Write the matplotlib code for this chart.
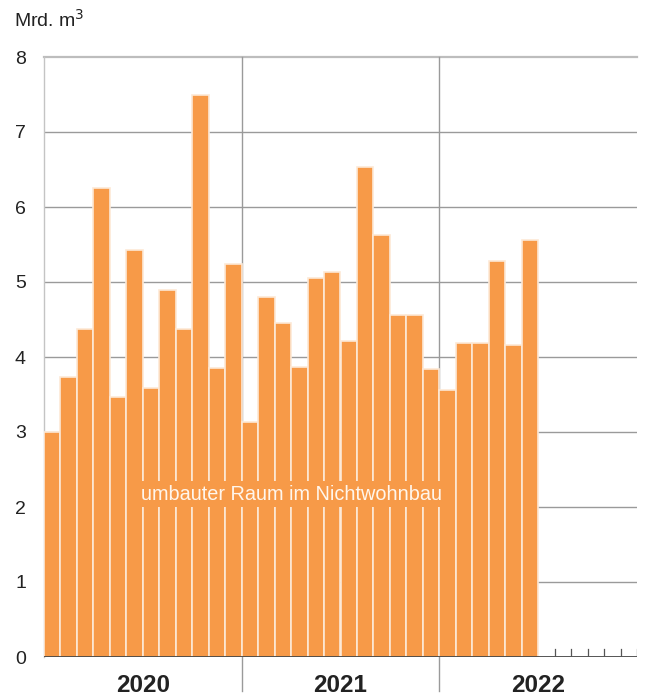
import matplotlib.pyplot as plt
import numpy as np

# monthly values Jan 2020 - Jun 2022, in Mrd. m3
values = [3.00, 3.74, 4.37, 6.25, 3.47, 5.43, 3.59, 4.90, 4.38, 7.49, 3.85, 5.24,
          3.13, 4.80, 4.45, 3.87, 5.05, 5.13, 4.21, 6.54, 5.63, 4.56, 4.56, 3.84,
          3.56, 4.19, 4.19, 5.28, 4.16, 5.56]
years = ['2020', '2021', '2022']
n_months = 36

plt.rcParams['font.family'] = ['Liberation Sans', 'DejaVu Sans']
orange = '#f79a48'

fig = plt.figure(figsize=(6.48, 6.96), dpi=100)
ax = fig.add_axes([44 / 648, 1 - 657 / 696, (637 - 44) / 648, 600 / 696])

x = np.arange(len(values))
ax.bar(x, values, width=1.0, color=orange, edgecolor='#fde9d6', linewidth=1.2, zorder=3)

ax.set_xlim(-0.5, n_months - 0.5)
ax.set_ylim(0, 8)

# horizontal grid
for v in range(1, 8):
    ax.axhline(v, color='#9a9a9a', lw=1.0, zorder=1)
ax.axhline(8, color='#bdbdbd', lw=1.6, zorder=1, clip_on=False)

# year separators running below the axis
for b in (11.5, 23.5):
    ax.plot([b, b], [8, -0.45], color='#9a9a9a', lw=1.0, zorder=1, clip_on=False)

for s in ['top', 'right', 'bottom']:
    ax.spines[s].set_visible(False)
ax.spines['left'].set_color('#c4c4c4')
ax.spines['left'].set_linewidth(1.0)

ax.axhline(0, color='#222222', lw=1.8, zorder=4)

# small month ticks for months without data
for m in range(len(values), n_months):
    ax.plot([m + 0.5, m + 0.5], [0, 0.11], color='#555555', lw=0.9, zorder=4)

ax.set_xticks([])
ax.set_yticks(range(0, 9))
ax.tick_params(axis='y', length=0, pad=13, labelsize=14, labelcolor='#222222')

for i, yr in enumerate(years):
    ax.text(5.5 + 12 * i, -0.38, yr, ha='center', va='center', fontsize=17.5,
            fontweight='bold', color='#222222',
            family=['Liberation Sans Narrow', 'Liberation Sans'])

ax.text(14.5, 2.17, 'umbauter Raum im Nichtwohnbau', ha='center', va='center',
        fontsize=14.3, color='#fff6ec', zorder=5,
        bbox=dict(facecolor=orange, edgecolor='none', pad=2.5))

fig.text(14 / 648, 1 - 20 / 696, 'Mrd. m$^3$', ha='left', va='center', fontsize=14,
         color='#222222')

fig.savefig('out.png', dpi=100)
